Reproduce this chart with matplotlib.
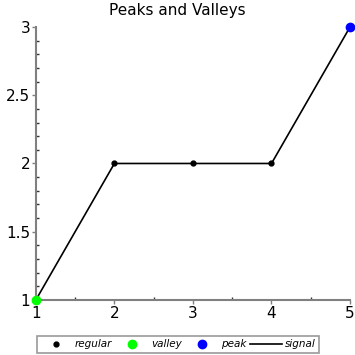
import matplotlib
matplotlib.use("Agg")
import matplotlib.pyplot as plt
from matplotlib.ticker import MultipleLocator, FuncFormatter

x = [1, 2, 3, 4, 5]
y = [1, 2, 2, 2, 3]
regular_x = [2, 3, 4]
regular_y = [2, 2, 2]
valley_x = [1]
valley_y = [1]
peak_x = [5]
peak_y = [3]

fig = plt.figure(figsize=(3.55, 3.55), dpi=100)
ax = fig.add_axes([0.101, 0.155, 0.885, 0.769])

line, = ax.plot(x, y, color="black", lw=1.2, clip_on=False, zorder=2)
r, = ax.plot(regular_x, regular_y, "o", color="black", ms=3.5, ls="none", clip_on=False, zorder=3)
v, = ax.plot(valley_x, valley_y, "o", color="#00ff00", ms=6, ls="none", clip_on=False, zorder=3)
p, = ax.plot(peak_x, peak_y, "o", color="#0000ff", ms=6, ls="none", clip_on=False, zorder=3)

ax.set_xlim(1, 5)
ax.set_ylim(1, 3)
ax.xaxis.set_major_locator(MultipleLocator(1))
ax.xaxis.set_minor_locator(MultipleLocator(0.5))
ax.yaxis.set_major_locator(MultipleLocator(0.5))
ax.yaxis.set_minor_locator(MultipleLocator(0.1))
ax.yaxis.set_major_formatter(FuncFormatter(lambda val, _: f"{val:g}"))

for s in ["top", "right"]:
    ax.spines[s].set_visible(False)
for s in ["left", "bottom"]:
    ax.spines[s].set_color("#808080")
    ax.spines[s].set_linewidth(1.5)

ax.tick_params(which="major", direction="out", length=3, width=1, color="#808080", labelsize=11, pad=1)
ax.tick_params(which="minor", direction="in", length=2, width=1, color="#333333")

fig.text(0.5, 0.970, "Peaks and Valleys", ha="center", va="center", fontsize=11)

leg = fig.legend([r, v, p, line], ["regular", "valley", "peak", "signal"],
                 loc="lower left", bbox_to_anchor=(37 / 355, 2 / 355),
                 ncol=4, fancybox=False, edgecolor="#808080",
                 prop={"style": "italic", "size": 7.5}, handlelength=3.0,
                 borderpad=0.35, columnspacing=0.42, handletextpad=0.3, borderaxespad=0)
leg.get_frame().set_linewidth(1.2)

fig.savefig("out.png", dpi=100)
